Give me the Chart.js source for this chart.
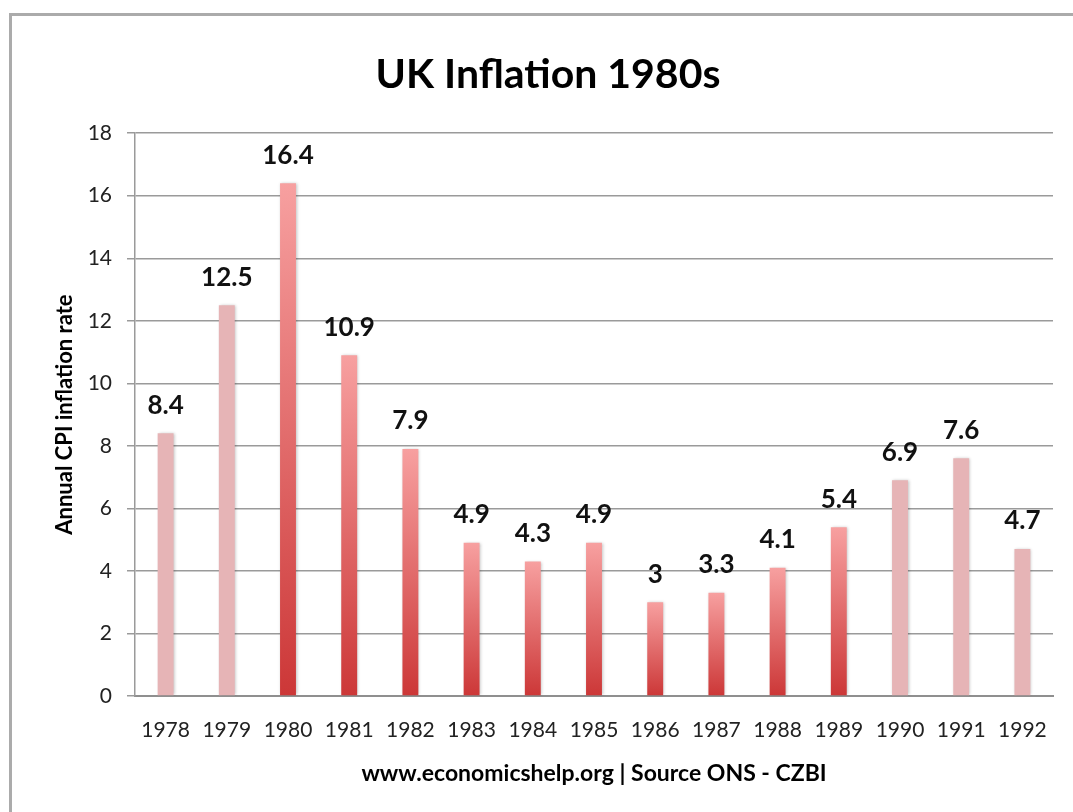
<!DOCTYPE html>
<html>
<head>
<meta charset="utf-8">
<script src="https://cdn.jsdelivr.net/npm/chart.js@4.4.1/dist/chart.umd.min.js"></script>
<style>
  html, body { margin: 0; padding: 0; background: #fff; overflow: hidden; }
  #frame {
    position: absolute; left: 9px; top: 13px;
    width: 1100px; height: 830px;
    border-left: 3px solid #ababab; border-top: 3px solid #ababab;
  }
  #wrap { position: absolute; left: 0; top: 0; width: 1061px; height: 796px; }
</style>
</head>
<body>
<div id="frame"><div id="wrap"><canvas id="chart"></canvas></div></div>
<script>
const years = ["1978", "1979", "1980", "1981", "1982", "1983", "1984", "1985",
               "1986", "1987", "1988", "1989", "1990", "1991", "1992"];
const inflation = [8.4, 12.5, 16.4, 10.9, 7.9, 4.9, 4.3, 4.9, 3, 3.3, 4.1, 5.4, 6.9, 7.6, 4.7];
// years outside the 1980s are drawn pale
const inDecade = [false, false, true, true, true, true, true, true, true, true, true, true, false, false, false];
const yTicks = [0, 2, 4, 6, 8, 10, 12, 14, 16, 18];

const FONT = "Lato, 'Open Sans', sans-serif";

function barColor(ctx) {
    const i = ctx.dataIndex;
    if (!inDecade[i]) return "#e6b4b6";
    const chart = ctx.chart;
    if (!chart.chartArea) return "#e06060";
    const y = chart.scales.y;
    const g = chart.ctx.createLinearGradient(0, y.getPixelForValue(inflation[i]), 0, y.getPixelForValue(0));
    g.addColorStop(0, "#f7a0a0");
    g.addColorStop(1, "#cc3737");
    return g;
}

// value labels above bars
const valueLabels = {
    id: "valueLabels",
    afterDatasetsDraw(chart) {
        const c = chart.ctx;
        const meta = chart.getDatasetMeta(0);
        c.save();
        c.font = "bold 26px " + FONT;
        c.fillStyle = "#111";
        c.textAlign = "center";
        c.textBaseline = "middle";
        meta.data.forEach((bar, i) => {
            c.fillText(String(inflation[i]), bar.x, bar.y - 28);
        });
        c.restore();
    }
};

const barShadow = {
    id: "barShadow",
    beforeDatasetsDraw(chart) {
        const c = chart.ctx;
        c.save();
        c.shadowColor = "rgba(0,0,0,0.25)";
        c.shadowBlur = 3;
        c.shadowOffsetX = 1;
    },
    afterDatasetsDraw(chart) {
        chart.ctx.restore();
    }
};

new Chart(document.getElementById("chart"), {
    type: "bar",
    data: {
        labels: years,
        datasets: [{
            data: inflation,
            backgroundColor: barColor,
            barPercentage: 0.52,
            categoryPercentage: 0.5
        }]
    },
    options: {
        responsive: true,
        maintainAspectRatio: false,
        animation: false,
        layout: { padding: { left: 31, right: 20, top: 0, bottom: 0 } },
        plugins: {
            legend: { display: false },
            tooltip: { enabled: false },
            title: {
                display: true,
                text: "UK Inflation 1980s",
                color: "#000",
                font: { family: FONT, size: 41, weight: "bold" },
                padding: { top: 34, bottom: 34 }
            }
        },
        scales: {
            x: {
                grid: { display: false, drawTicks: false },
                border: { color: "#8f8f8f", width: 2 },
                ticks: { color: "#222", font: { family: FONT, size: 21 }, padding: 22, maxRotation: 0 },
                title: {
                    display: true,
                    text: "www.economicshelp.org | Source ONS - CZBI",
                    color: "#000",
                    font: { family: FONT, size: 23, weight: "bold" },
                    padding: { top: 0, bottom: 25 }
                },
                afterFit(scale) { scale.height = 116; }
            },
            y: {
                min: 0,
                max: 18,
                afterBuildTicks(scale) { scale.ticks = yTicks.map(v => ({ value: v })); },
                grid: { color: "#9a9a9a", lineWidth: 1.5, tickLength: 8, drawTicks: true },
                border: { color: "#9a9a9a", width: 1.5 },
                ticks: { color: "#222", font: { family: FONT, size: 21 }, padding: 15 },
                title: {
                    display: true,
                    text: "Annual CPI inflation rate",
                    color: "#000",
                    font: { family: FONT, size: 22, weight: "bold" },
                    padding: { top: 9, bottom: 0 }
                },
                afterFit(scale) { scale.width = 92; }
            }
        }
    },
    plugins: [barShadow, valueLabels]
});
</script>
</body>
</html>
